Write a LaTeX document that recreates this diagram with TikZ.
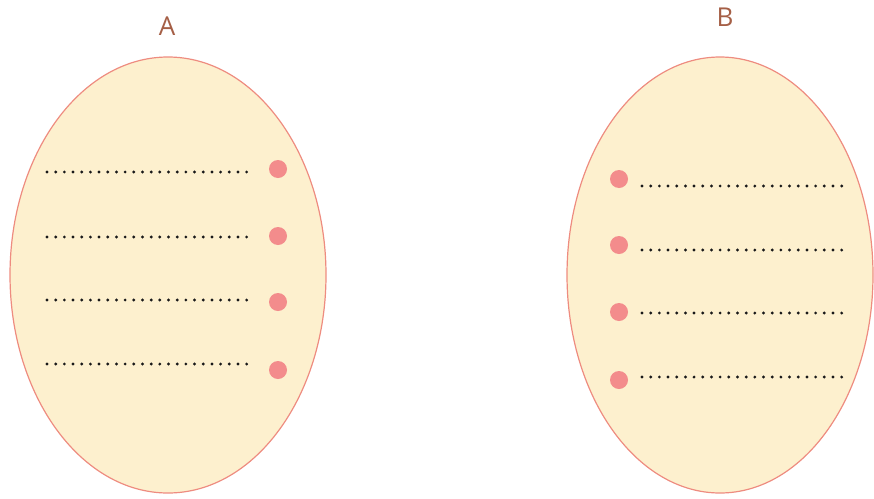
\documentclass[tikz,border=0pt]{standalone}
\usepackage{fontspec}
\setmainfont{Open Sans}
\usetikzlibrary{shapes.geometric}
\definecolor{eggfill}{RGB}{253,240,206}
\definecolor{eggline}{RGB}{238,140,128}
\definecolor{pinkdot}{RGB}{243,140,140}
\definecolor{labelcol}{RGB}{165,95,70}
\tikzset{
  x=1pt,y=-1pt,
  egg/.style={ellipse,draw=eggline,fill=eggfill,line width=1.2pt,inner sep=0pt},
  pdot/.style={circle,fill=pinkdot,minimum size=18pt,inner sep=0pt},
  dotline/.style={line width=3.2pt,line cap=round,dash pattern=on 0pt off 8.68pt,black!90},
  lab/.style={text=labelcol,font=\fontsize{26}{30}\selectfont}
}
\begin{document}
\begin{tikzpicture}
\useasboundingbox (0,0) rectangle (874,498);
\node[egg,minimum width=316pt,minimum height=436pt] (EA) at (168,275) {};
\node[egg,minimum width=306pt,minimum height=436pt] (EB) at (720,275) {};
\node[lab] (LA) at (167,26) {A};
\node[lab] (LB) at (725,17) {B};
% A
\foreach \i/\yl/\yc in {1/172/169,2/237/236,3/300/302,4/364/370}{
  \coordinate (as\i) at (47,\yl);
  \coordinate (ae\i) at (247,\yl);
  \draw[dotline] (as\i) -- (ae\i);
  \node[pdot] (ad\i) at (278,\yc) {};
}
% B
\foreach \i/\yl/\yc in {1/186/179,2/250/245,3/313/312,4/377/380}{
  \coordinate (bs\i) at (642,\yl);
  \coordinate (be\i) at (842,\yl);
  \draw[dotline] (bs\i) -- (be\i);
  \node[pdot] (bd\i) at (619,\yc) {};
}
\end{tikzpicture}
\end{document}
